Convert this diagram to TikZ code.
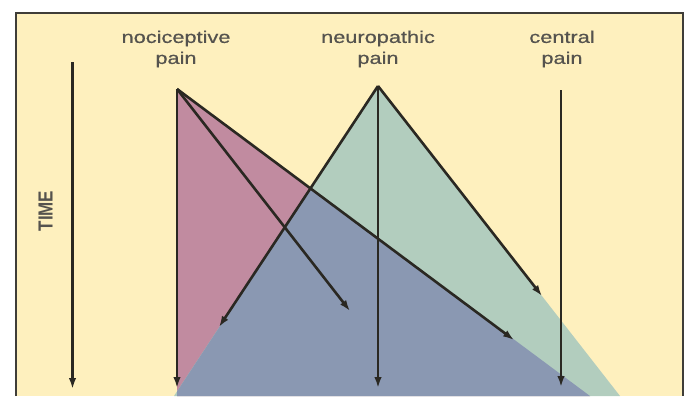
\documentclass[tikz,border=0pt]{standalone}
\usepackage{fontspec}
\setmainfont{Liberation Sans}
\newfontfamily\labfont[FakeStretch=1.28,FakeBold=0.6]{Liberation Sans}
\usetikzlibrary{arrows.meta}
\definecolor{paper}{RGB}{254,240,190}
\definecolor{nocifill}{RGB}{193,139,160}
\definecolor{neurofill}{RGB}{178,205,190}
\definecolor{bothfill}{RGB}{138,152,178}
\definecolor{ink}{RGB}{42,40,34}

\begin{document}
\begin{tikzpicture}[
  x=1pt, y=-1pt,
  lab/.style={align=center, inner sep=0pt, text=ink!80, font=\labfont\fontsize{17}{21}\selectfont},
  arrow/.style={-{Latex[length=11pt,width=7.5pt]}, line width=2.6pt, draw=ink}
]
\useasboundingbox (0,0) rectangle (684,396);
\fill[paper] (16,13) rectangle (683,396);

\coordinate (n0) at (177,89);
\coordinate (n1) at (177,388);
\coordinate (n2) at (350,311);
\coordinate (n3) at (514,340);
\coordinate (p0) at (378,86);
\coordinate (p1) at (219,327);
\coordinate (p2) at (378,388);
\coordinate (p3) at (542,296);
\coordinate (c0) at (561,90);
\coordinate (c1) at (561,387);
\coordinate (t0) at (72.5,62);
\coordinate (t1) at (72.5,389);

\fill[nocifill] (n0) -- (177,396) -- (590,396) -- cycle;
\fill[neurofill] (p0) -- (174,396) -- (620,396) -- cycle;
\begin{scope}
  \clip (n0) -- (177,396) -- (590,396) -- cycle;
  \fill[bothfill] (p0) -- (174,396) -- (620,396) -- cycle;
\end{scope}

\draw[line width=1.4pt, ink!90] (16,396) -- (16,13) -- (683,13) -- (683,396);

\node[lab] (nocil) at (176,49) {nociceptive\\pain};
\node[lab] (neurol) at (378,49) {neuropathic\\pain};
\node[lab] (centl) at (562,49) {central\\pain};
\node[lab, font=\fontsize{17}{20}\selectfont\bfseries, rotate=90] (time) at (45.5,211) {\scalebox{1}[1.2]{TIME}};

\draw[arrow] (t0) -- (t1);

\draw[arrow] (n0) -- (n1);
\draw[arrow] (n0) -- (n2);
\draw[arrow] (n0) -- (n3);

\draw[arrow] (p0) -- (p1);
\draw[arrow] (p0) -- (p2);
\draw[arrow] (p0) -- (p3);

\draw[arrow] (c0) -- (c1);
\end{tikzpicture}
\end{document}
